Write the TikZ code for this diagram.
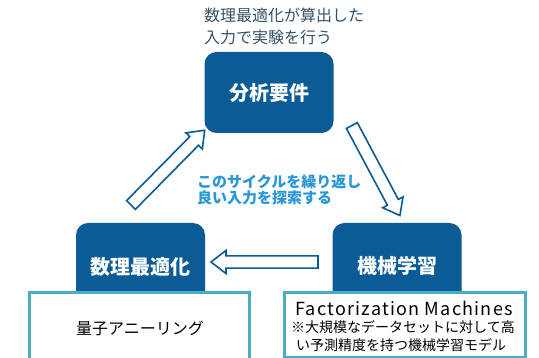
\documentclass[tikz,border=0pt]{standalone}
\usepackage{fontspec}
\setmainfont{Noto Sans CJK JP}
\usetikzlibrary{shapes.arrows}
\definecolor{boxblue}{RGB}{10,91,150}
\definecolor{toptext}{RGB}{52,82,105}
\definecolor{cyctext}{RGB}{40,150,215}
\definecolor{framecol}{RGB}{75,172,198}
\tikzset{
  darkbox/.style={draw=none, fill=boxblue, rounded corners=12pt, minimum width=129pt, minimum height=82pt, inner sep=0pt},
  boxlabel/.style={text=white, font=\fontsize{20}{22}\selectfont\bfseries},
  whitebox/.style={draw=framecol, line width=2.5pt, fill=white, inner sep=0pt},
  hollowarrow/.style={single arrow, draw=boxblue, fill=white, line width=1.6pt, minimum width=23pt, single arrow head extend=5pt, single arrow tip angle=75, inner xsep=0pt, inner ysep=5pt}
}
\begin{document}
\begin{tikzpicture}[x=1pt,y=-1pt]
\useasboundingbox (0,0) rectangle (539,358);
% top box
\node[darkbox, minimum height=81pt] (req) at (269,92.5) {};
\node[boxlabel] (reqlbl) at (req.center) {分析要件};
% bottom left
\node[darkbox, minimum height=100pt] (opt) at (140.5,273) {};
\node[boxlabel] (optlbl) at (140.5,267) {数理最適化};
% bottom right
\node[darkbox, minimum height=100pt] (ml) at (397,273) {};
\node[boxlabel] (mllbl) at (397,266) {機械学習};
% white boxes
\node[whitebox, minimum width=220pt, minimum height=80pt, anchor=north west] (qa) at (28,291.5) {};
\node[font=\fontsize{16}{19}\selectfont] (qalbl) at (140,328) {量子アニーリング};
\node[whitebox, minimum width=241pt, minimum height=65pt, anchor=north west] (fm) at (283,291.5) {};
\node[font=\fontsize{18}{20}\selectfont\addfontfeatures{LetterSpace=7}, inner sep=0pt, anchor=base] (fmlbl) at (404,316) {Factorization Machines};
\node[font=\fontsize{14}{15}\selectfont, inner sep=0pt] (fmnote1) at (403,327.5) {※大規模なデータセットに対して高};
\node[font=\fontsize{14}{15}\selectfont, inner sep=0pt] (fmnote2) at (401,345) {い予測精度を持つ機械学習モデル};
% top text
\node[anchor=west, align=left, text=toptext, font=\fontsize{16}{22}\selectfont, inner sep=0pt] (note) at (204,26) {数理最適化が算出した\\入力で実験を行う};
% cycle text
\node[anchor=west, align=left, text=cyctext, font=\fontsize{15}{16.5}\selectfont\bfseries, inner sep=0pt] (cycle) at (197,190) {このサイクルを繰り返し\\良い入力を探索する};
% arrows
\node[hollowarrow, minimum height=105pt, rotate=45.4] (a1) at (165,170.5) {};
\node[hollowarrow, minimum height=102pt, rotate=-61.9] (a2) at (374,167) {};
\node[hollowarrow, minimum height=107pt, rotate=180] (a3) at (268.5,262) {};
\end{tikzpicture}
\end{document}
